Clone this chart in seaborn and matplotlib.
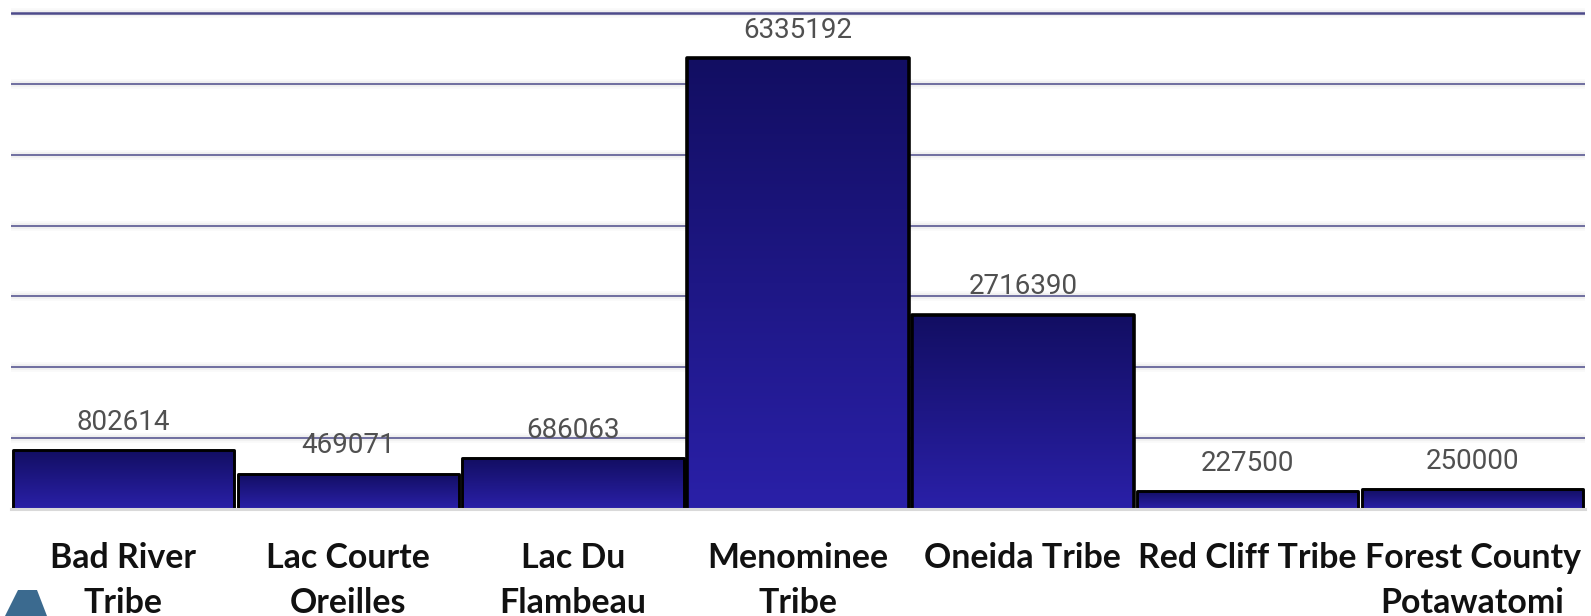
import numpy as np
import pandas as pd
import matplotlib.pyplot as plt
import matplotlib.patheffects as pe
from matplotlib.colors import LinearSegmentedColormap
from matplotlib.patches import Polygon
import seaborn as sns

sns.set_theme(style='white')

# =========================
#  DATA
# =========================

tribes = ['Bad River\nTribe', 'Lac Courte\nOreilles', 'Lac Du\nFlambeau', 'Menominee\nTribe',
          'Oneida Tribe', 'Red Cliff Tribe', 'Forest County\nPotawatomi']
amounts = [802614, 469071, 686063, 6335192, 2716390, 227500, 250000]
grid_ticks = [1000000, 2000000, 3000000, 4000000, 5000000, 6000000, 7000000]

W, H = 1591, 616
BASE_Y = 509
LEFT, RIGHT = 11, 1585
PX_PER_UNIT = 70.85 / 1e6
LIFT = 2 / PX_PER_UNIT  # bars sit 2px above the grey line in the original

data = pd.DataFrame({'tribe': tribes, 'amount': amounts})

fig = plt.figure(figsize=(W / 100, H / 100), dpi=100, facecolor='white')
ax = fig.add_axes([LEFT / W, 1 - BASE_Y / H, (RIGHT - LEFT) / W, BASE_Y / H])

sns.barplot(data=data, x='tribe', y='amount', ax=ax, width=0.985, color='#1c1678', saturation=1)

# =========================
#  GRADIENT BARS
# =========================

cmap = LinearSegmentedColormap.from_list('bar_grad', ['#120e62', '#2a20a8'])
grad = np.linspace(0, 1, 256).reshape(-1, 1)
for patch, value in zip(ax.patches, amounts):
    x0, w = patch.get_x(), patch.get_width()
    h = patch.get_height()
    img = ax.imshow(grad, extent=[x0, x0 + w, -LIFT, h], origin='upper', aspect='auto',
                    cmap=cmap, zorder=2.5, interpolation='bilinear')
    patch.set_y(-LIFT * 2)
    patch.set_height(h + LIFT * 2)
    img.set_clip_path(patch)
    patch.set_facecolor('none')
    patch.set_edgecolor('black')
    patch.set_linewidth(2.6 if value > 1000000 else 2.1)
    patch.set_joinstyle('round')
    patch.set_zorder(3)

ax.set_xlim(-0.5, 6.5)
ax.set_ylim(-LIFT, (BASE_Y - 2) / PX_PER_UNIT)
ax.set_yticks([t - LIFT for t in grid_ticks])
ax.set_yticklabels([])
ax.tick_params(axis='y', length=0)

# =========================
#  GRID, SPINES, LABELS
# =========================

ax.set_axisbelow(True)
ax.yaxis.grid(True, color='#4d4b8a', linewidth=1.1)
for line in ax.get_ygridlines():
    line.set_path_effects([pe.Stroke(linewidth=7, foreground='#000000', alpha=0.025),
                           pe.Stroke(linewidth=4, foreground='#000000', alpha=0.04), pe.Normal()])
ax.get_ygridlines()[-1].set_linewidth(1.8)

for side in ['top', 'left', 'right']:
    ax.spines[side].set_visible(False)
ax.spines['bottom'].set_color('#d9d9d9')
ax.spines['bottom'].set_linewidth(2.2)
ax.spines['bottom'].set_zorder(5)

ax.set_xlabel('')
ax.set_ylabel('')
ax.tick_params(axis='x', length=0, pad=23.5)
ax.set_xticks(range(len(tribes)))
ax.set_xticklabels(tribes, fontfamily='Lato', fontweight='bold', fontsize=24.4, color='#111111', linespacing=1.5)

# labels sit on the real bar tops
for patch, value in zip(ax.patches, amounts):
    ax.annotate(str(value), (patch.get_x() + patch.get_width() / 2, value), xytext=(0, 20),
                textcoords='offset points', ha='center', va='center', fontfamily='Roboto',
                fontsize=20, color='#505050', zorder=6)

# piece of a logo cut off at the bottom left
fig.add_artist(Polygon([(18 / W, 1 - 590 / H), (37 / W, 1 - 590 / H), (47 / W, 0), (5 / W, 0)],
                       closed=True, transform=fig.transFigure, facecolor='#3b6a8f', edgecolor='none'))

fig.savefig('out.png', dpi=100)
plt.close(fig)
